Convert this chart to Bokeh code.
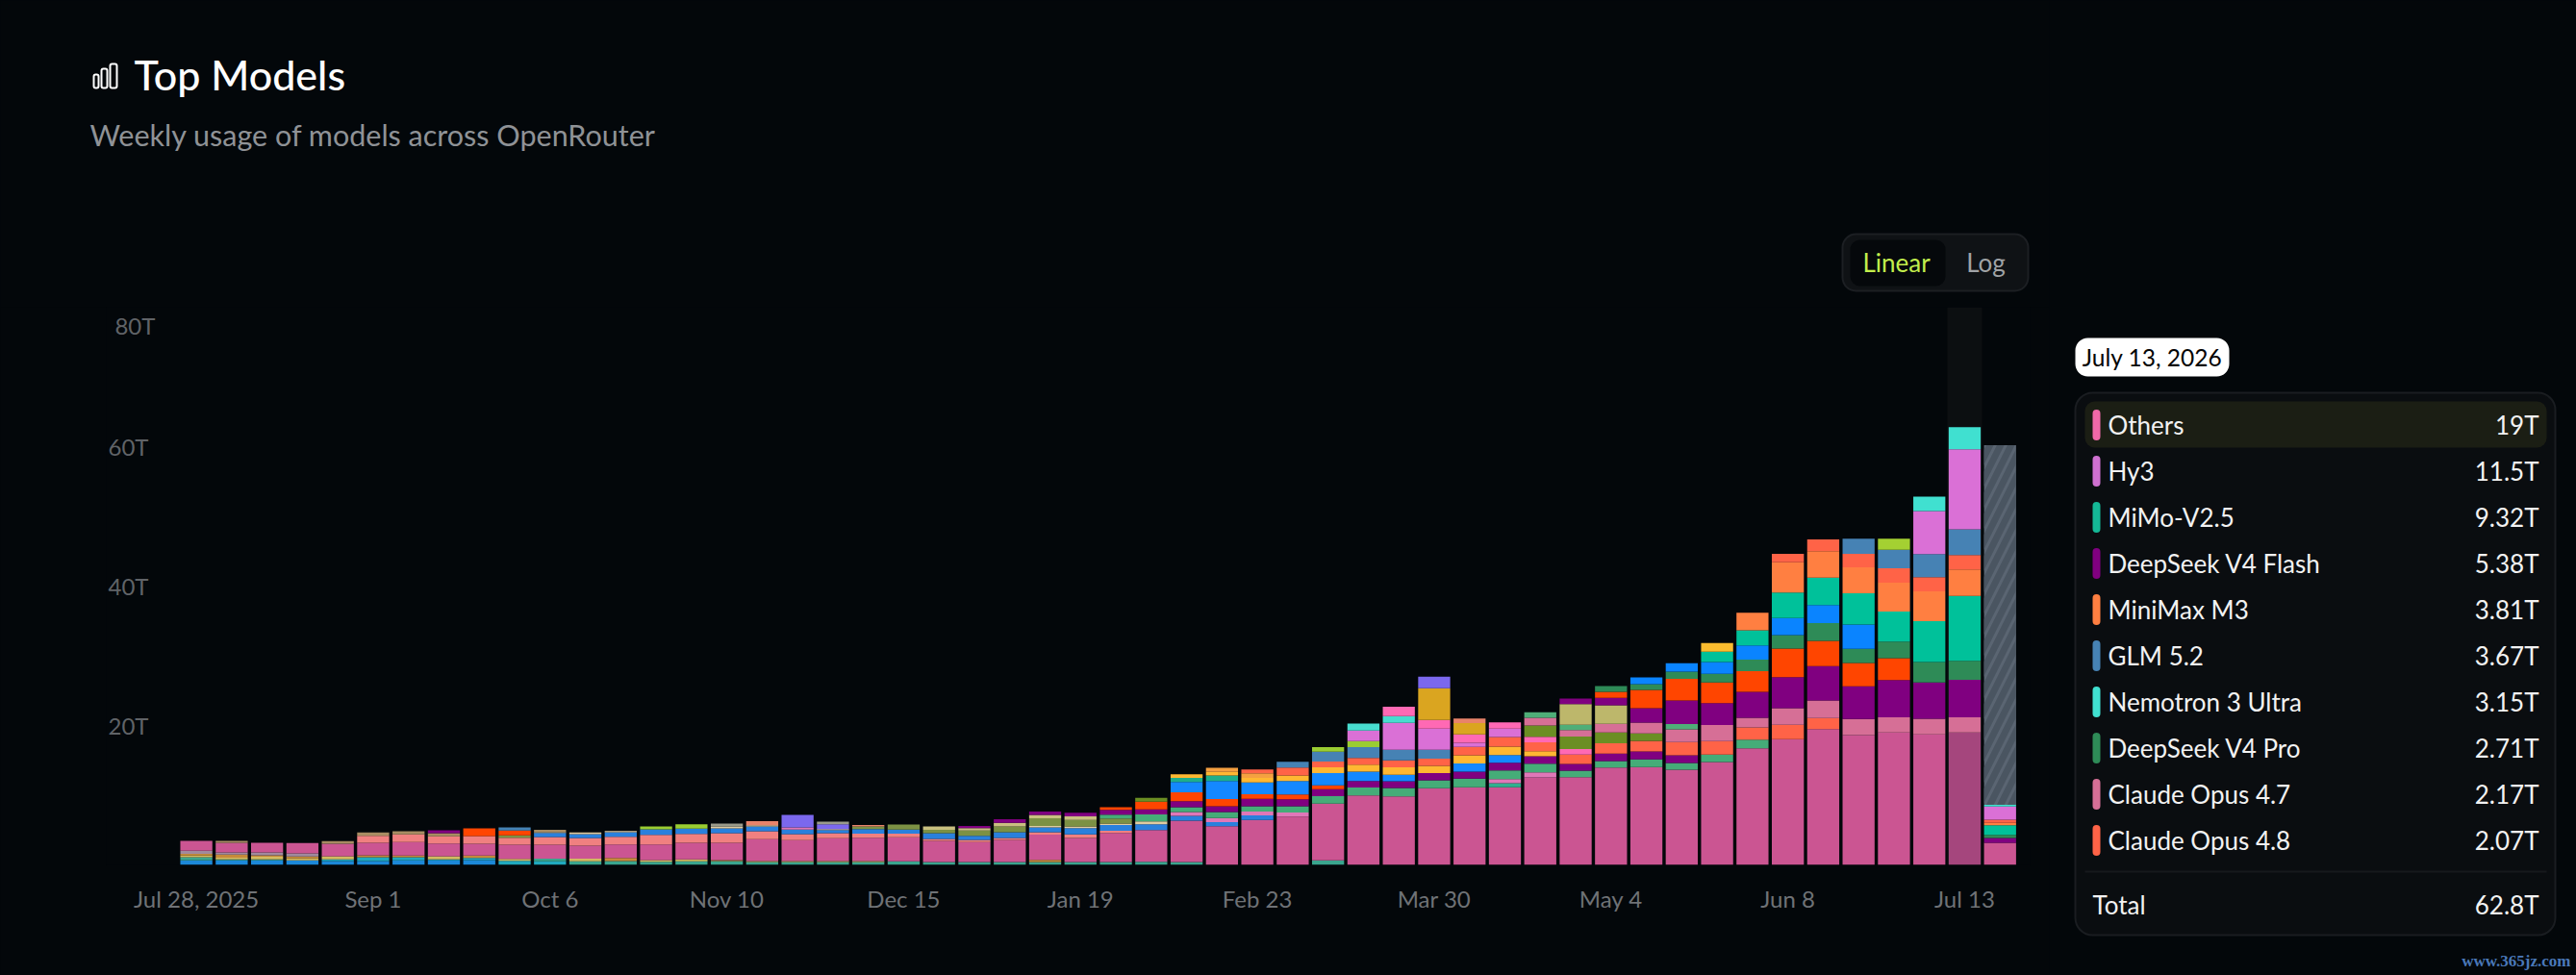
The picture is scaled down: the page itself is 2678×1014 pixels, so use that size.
from bokeh.plotting import figure
from bokeh.layouts import row, column
from bokeh.embed import file_html
from bokeh.resources import INLINE
from bokeh.models import ColumnDataSource, Range1d, FixedTicker, GlobalInlineStyleSheet
from bokeh.core.properties import value

BG = "#03070a"
FONT = "Lato"

x_ticks = [0, 5, 10, 15, 20, 25, 30, 35, 40, 45, 50]
x_tick_labels = ["Jul 28, 2025", "Sep 1", "Oct 6", "Nov 10", "Dec 15", "Jan 19",
                 "Feb 23", "Mar 30", "May 4", "Jun 8", "Jul 13"]
y_ticks = [20, 40, 60]
y_tick_labels = ["20T", "40T", "60T"]
y_top_tick = 80
y_top_label = "80T"

legend_date = "July 13, 2026"
legend_names = ["Others", "Hy3", "MiMo-V2.5", "DeepSeek V4 Flash", "MiniMax M3", "GLM 5.2",
                "Nemotron 3 Ultra", "DeepSeek V4 Pro", "Claude Opus 4.7", "Claude Opus 4.8"]
legend_values = ["19T", "11.5T", "9.32T", "5.38T", "3.81T", "3.67T", "3.15T", "2.71T", "2.17T", "2.07T"]
legend_colors = ["#f068a8", "#cf70d0", "#14b896", "#800080", "#ff7f41", "#4682b4",
                 "#40e0d0", "#2e8b57", "#d66f96", "#ff6347"]
legend_total = "62.8T"

# Weekly values in trillions of tokens, (week index, value), bottom of the stack first
others = [1.42, 1.38, 1.38, 1.47, 1.79, 1.79, 1.93, 1.83, 1.70, 2.03, 2.03, 1.89, 1.93, 2.25, 2.39, 2.48,
          3.13, 2.99, 3.27, 3.35, 3.45, 3.04, 2.86, 3.17, 3.63, 3.45, 4.18, 4.55, 5.93, 5.56, 6.44, 6.94,
          8.14, 9.97, 9.84, 11.0, 11.14, 11.14, 12.56, 12.6, 13.98, 14.03, 13.66, 14.77, 16.74, 18.04,
          19.5, 18.63, 19.0, 18.73, 19.0, 3.17]
low_blue = [(0, .65), (1, .65), (2, .65), (3, .65), (4, .55), (5, .55), (6, .65), (7, .65), (8, .69)]
low_cyan = [(4, .23), (5, .55), (6, .46), (7, .14), (8, .32), (9, .59), (10, .51)]
teal = [(0, .46), (1, .14), (2, .14), (10, .37), (11, .51), (12, .55), (13, .46), (14, .51), (15, .55), (16, .41),
        (17, .41), (18, .41), (19, .41), (20, .51), (21, .41), (22, .41), (23, .41), (24, .41), (25, .41),
        (26, .41), (27, .45), (28, .41), (32, .65)]
low_khaki = [(0, .23), (1, .23), (2, .37), (3, .28), (4, .46), (7, .46), (9, .28), (11, .37), (13, .23), (14, .28),
             (16, .14), (17, .14), (18, .14), (19, .14)]
low_orange = [(0, .23), (1, .46), (2, .23), (3, .28), (5, .28), (6, .23), (8, .32), (12, .46), (15, .14), (24, .32)]
low_gray = [(0, .46), (1, .32), (2, .41), (3, .46)]
teal2 = [(37, .59)]
salmon = [(5, 1.01), (6, 1.1), (7, 1.01), (8, 1.1), (9, 1.01), (10, 1.1), (11, 1.1), (12, 1.1), (13, 1.38), (14, 1.28),
          (15, 1.38), (16, 1.15), (17, .87), (18, .73), (19, .59), (20, .51), (21, .28), (22, .32), (23, .28),
          (24, .32), (25, .51), (26, .32)]
blue2 = [(10, .59), (11, .55), (12, .65), (13, .79), (14, .73), (15, .69), (16, .69), (17, .65), (18, .46), (19, .65),
         (20, .59), (21, .83), (22, .59), (23, .83), (24, .69), (25, .92), (26, .83), (27, .83), (28, .69), (29, .59),
         (30, .65)]
orchid_pink = [(17, .32), (28, .55), (29, .59), (30, .55), (31, .59), (37, .59), (38, .73)]
pale = [(10, .1), (11, .23), (12, .18), (15, .23), (16, .18), (18, .14), (24, .23), (25, .23), (26, .18), (27, .41)]
top_brown = [(1, .28), (4, .37), (5, .46), (6, .46), (7, .46), (10, .32)]
mid_olive = [(9, .32), (19, .37), (20, .74), (21, .46), (22, .74), (23, .83), (24, 1.1), (25, .92), (26, .74)]
mid_khaki = [(21, .51), (22, .37), (23, .51), (24, .46), (25, .51)]
green = [(26, .55), (27, 1.0), (28, .69), (29, .83), (30, .79), (31, .87), (32, 1.06), (33, 1.15), (34, 1.2), (35, 1.15),
         (36, 1.24), (37, 1.24), (38, 1.24), (39, .92), (40, .92), (41, 1.1), (42, .97), (43, 1.06), (44, 1.24)]
purple_a = [(7, .41), (22, .28), (23, .51), (24, .51), (25, .55), (26, .69), (27, .72), (28, .87), (29, .83), (30, 1.06),
            (31, 1.01), (32, 1.01), (33, .92), (34, .97), (35, 1.01), (36, 1.01), (37, 1.1), (38, 1.06), (39, .97),
            (40, 1.06), (41, 1.15), (42, 1.1)]
orangered_a = [(8, 1.1), (9, .69), (26, .37), (27, 1.1), (28, 1.28), (29, 1.06), (30, .65), (31, .69), (32, .55)]
blue3 = [(28, 1.48), (29, 2.58), (30, 1.7), (31, 1.93), (32, 1.75), (33, 1.34), (34, .92), (36, 1.15), (37, 1.1)]
teal_green = [(28, .59), (29, .79)]
yellow = [(28, .51), (29, .51), (30, .65), (31, .79), (32, .83), (33, 1.01), (34, 1.06), (35, 1.06), (36, 1.2), (37, 1.2),
          (38, .73)]
orange_a = [(29, .59), (30, .65)]
tomato_a = [(30, .55), (31, 1.15), (32, .83), (33, .97), (34, 1.01), (35, 1.01), (36, 1.2), (37, 1.38), (38, 1.28),
            (39, 1.34), (40, 1.48), (41, 1.52), (42, 1.89), (43, 1.93), (44, 1.75), (45, 2.07), (46, 1.56)]
steelblue_a = [(9, .46), (31, .83), (32, 1.42), (33, 1.52), (34, 1.52), (35, 1.28)]
yellowgreen_a = [(13, .41), (14, .65), (32, .65), (33, .87)]
orchid_a = [(33, 1.52), (34, 3.86), (35, 3.04), (36, .59), (37, 1.2)]
turquoise_a = [(33, 1.01), (34, .97)]
hotpink = [(34, 1.34), (35, 1.24), (36, 1.2), (37, .92), (38, .79), (39, .79)]
goldenrod = [(35, 4.55), (36, 1.61)]
coral = [(16, .59), (19, .23), (36, .65)]
slate = [(17, 1.79), (18, .69), (35, 1.66)]
top_gray = [(15, .46), (18, .37)]
olive_b = [(27, .55), (38, 1.61), (39, 1.79), (40, 1.56), (41, 1.06)]
opus47 = [(38, 1.1), (39, .92), (40, 1.24), (41, 1.56), (42, 1.84), (43, 2.3), (44, 1.38), (45, 2.39), (46, 2.53),
          (47, 2.3), (48, 2.17), (49, 2.25), (50, 2.17)]
green2 = [(38, .79), (39, .79), (42, .73)]
khaki2 = [(39, 2.94), (40, 2.66)]
v4_flash = [(39, .79), (40, 1.06), (41, 2.07), (42, 3.41), (43, 3.13), (44, 3.73), (45, 4.42), (46, 4.93), (47, 4.69),
            (48, 5.34), (49, 5.2), (50, 5.38), (51, .69)]
orangered_b = [(40, .87), (41, 2.62), (42, 3.08), (43, 2.99), (44, 2.94), (45, 4.1), (46, 3.63), (47, 3.35), (48, 3.13)]
v4_pro = [(40, .83), (41, .83), (42, 1.06), (43, 1.24), (44, 1.66), (45, 1.93), (46, 2.53), (47, 2.03), (48, 2.39),
          (49, 2.94), (50, 2.71), (51, .46)]
blue_b = [(41, .97), (42, 1.2), (43, 1.7), (44, 2.03), (45, 2.48), (46, 2.58), (47, 3.49)]
mimo = [(43, 1.48), (44, 2.17), (45, 3.63), (46, 3.96), (47, 4.46), (48, 4.32), (49, 5.84), (50, 9.32), (51, 1.38)]
yellow_b = [(43, 1.24)]
minimax = [(44, 2.53), (45, 4.37), (46, 3.77), (47, 3.73), (48, 4.14), (49, 4.28), (50, 3.81), (51, .32)]
opus48 = [(45, 1.2), (46, 1.7), (47, 1.93), (48, 2.07), (49, 2.03), (50, 2.07), (51, .46)]
glm = [(47, 2.17), (48, 2.66), (49, 3.31), (50, 3.67)]
yellowgreen_b = [(48, 1.56)]
hy3 = [(49, 6.17), (50, 11.5), (51, 1.9)]
nemotron = [(49, 2.07), (50, 3.15), (51, .23)]
partial_week = [(51, 51.6)]

stack = [
    (low_blue, "#1c88d8"), (low_cyan, "#20a9be"), (teal, "#3aa58e"), (low_khaki, "#d2bb62"),
    (low_orange, "#c58a3a"), (low_gray, "#a08a9e"),
    (list(enumerate(others)), "#cb5592"),
    (teal2, "#2fb08f"), (salmon, "#f08080"), (blue2, "#2a80dc"), (orchid_pink, "#e077b8"), (pale, "#e0cba0"),
    (top_brown, "#a88c62"), (mid_olive, "#7c9144"), (mid_khaki, "#c9c080"), (green, "#45ac78"),
    (purple_a, "#800080"), (orangered_a, "#ff4500"), (blue3, "#1488ff"), (teal_green, "#1fae8a"),
    (yellow, "#ffb732"), (orange_a, "#f5a040"), (tomato_a, "#ff6347"), (steelblue_a, "#4682b4"),
    (yellowgreen_a, "#9acd32"), (orchid_a, "#da70d6"), (turquoise_a, "#48dccf"), (hotpink, "#ff69b4"),
    (goldenrod, "#daa520"), (coral, "#e8836a"), (slate, "#7b68ee"), (top_gray, "#9a9a8a"),
    (olive_b, "#6b8e23"), (opus47, "#d66f96"), (green2, "#4fae78"), (khaki2, "#bdb76b"),
    (v4_flash, "#800080"), (orangered_b, "#ff4500"), (v4_pro, "#2e8b57"), (blue_b, "#0a84ff"),
    (mimo, "#00c19a"), (yellow_b, "#fbbc2e"), (minimax, "#ff7f41"), (opus48, "#ff6347"),
    (glm, "#4682b4"), (yellowgreen_b, "#a4d032"), (hy3, "#da70d6"), (nemotron, "#40e0d0"),
]
HOVER_WEEK = 50

main = figure(width=2130, height=695, output_backend="svg", toolbar_location=None,
              x_range=Range1d(-2.546, 51.85), y_range=Range1d(0, 80), frame_align=False,
              min_border_left=110, min_border_right=20, min_border_top=0, min_border_bottom=115,
              background_fill_color=BG, border_fill_color=BG, outline_line_color=None)
main.stylesheets = [GlobalInlineStyleSheet(css=f"html,body{{background:{BG};margin:0;overflow:hidden;}}")]
main.grid.visible = False

main.xaxis.ticker = FixedTicker(ticks=x_ticks)
main.xaxis.major_label_overrides = {k: v for k, v in zip(x_ticks, x_tick_labels)}
main.yaxis.ticker = FixedTicker(ticks=y_ticks)
main.yaxis.major_label_overrides = {k: v for k, v in zip(y_ticks, y_tick_labels)}
for ax in (main.xaxis[0], main.yaxis[0]):
    ax.axis_line_color = None
    ax.major_tick_line_color = None
    ax.minor_tick_line_color = None
    ax.major_label_text_font = FONT
    ax.major_label_text_font_size = "24px"
main.xaxis.major_label_text_color = "#6f7276"
main.yaxis.major_label_text_color = "#606367"
main.xaxis.major_label_standoff = 14
main.yaxis.major_label_standoff = -50

# hover band behind the highlighted week
main.vbar(x=[HOVER_WEEK], width=0.98, bottom=0, top=[y_top_tick], fill_color="#0c0f11", line_color=None)

bottoms = [0.0] * 52
for pairs, color in stack:
    xs = [w for w, _ in pairs]
    b = [bottoms[w] for w, _ in pairs]
    t = [bottoms[w] + v for w, v in pairs]
    fills = ["#a5467d" if (color == "#cb5592" and w == HOVER_WEEK) else color for w in xs]
    src = ColumnDataSource(dict(x=xs, bottom=b, top=t, fill=fills))
    main.vbar(x="x", width=0.906, bottom="bottom", top="top", source=src, fill_color="fill", line_color=None)
    for w, v in pairs:
        bottoms[w] += v

w0, v0 = partial_week[0]
main.vbar(x=[w0], width=0.906, bottom=[bottoms[w0]], top=[bottoms[w0] + v0], fill_color="#5a6572",
          line_color=None, hatch_pattern="right_diagonal_line", hatch_color="#4a5561",
          hatch_scale=22, hatch_weight=7)

# the top tick label sits below its tick, clamped inside the chart
main.text(x=[-1.16], y=[y_top_tick], text=[y_top_label], y_offset=19, text_align="right", text_baseline="middle",
          text_font=value(FONT), text_font_size="24px", text_color="#606367")


def page_figure(w, h, x0, y0):
    f = figure(width=w, height=h, output_backend="svg", toolbar_location=None,
               x_range=Range1d(x0, x0 + w), y_range=Range1d(y0 + h, y0), frame_align=False,
               x_axis_location=None, y_axis_location=None, min_border=0,
               background_fill_color=BG, border_fill_color=BG, outline_line_color=None)
    f.grid.visible = False
    return f


def box(f, l, t, r, b, fill, line=None, radius=0, width=1):
    f.quad(left=[l], right=[r], top=[t], bottom=[b], fill_color=fill or BG, fill_alpha=1 if fill else 0,
           line_color=line, line_width=width, border_radius=radius)


def label(f, x, y, s, size, color, align="left", font=FONT, style="normal"):
    f.text(x=[x], y=[y], text=[s], text_font=value(font), text_font_size=f"{size}px", text_color=color,
           text_align=align, text_baseline="middle", text_font_style=style)


# title block and scale toggle
head = page_figure(2130, 319, 0, 0)
for l, t, r in [(97, 77, 102), (105, 71, 111), (114, 66, 121)]:
    box(head, l, t, r, 91, None, "#ffffff", 2, 2)
label(head, 139, 77, "Top Models", 43, "#ffffff", font="Lato Medium, Lato")
label(head, 93, 139, "Weekly usage of models across OpenRouter", 30.5, "#8f9296")
box(head, 1915, 243, 2108, 302, "#0f1215", "#1c1f23", 14, 2)
box(head, 1923, 249, 2022, 297, "#05080b", None, 10)
label(head, 1971, 272.5, "Linear", 26, "#c2ee4c", "center")
label(head, 2064, 272.5, "Log", 26, "#a0a3a6", "center")

# legend panel
side = page_figure(548, 1014, 2130, 0)
box(side, 2157, 351, 2317, 391, "#ffffff", None, 13)
label(side, 2237, 371, legend_date, 24.5, "#050505", "center")
box(side, 2157, 408, 2656, 972, "#0a0d10", "#1a1d21", 18, 2)
box(side, 2167, 417, 2647, 465, "#1b1e14", None, 10)
for i, (name, val, col) in enumerate(zip(legend_names, legend_values, legend_colors)):
    cy = 441.5 + 48 * i
    box(side, 2175, cy - 16, 2183, cy + 16, col, None, 4)
    label(side, 2191, cy, name, 26, "#f2f2f2")
    label(side, 2639, cy, val, 26, "#f2f2f2", "right")
box(side, 2167, 905, 2647, 907, "#16191c")
label(side, 2175, 940, "Total", 26, "#f2f2f2")
label(side, 2639, 940, legend_total, 26, "#f2f2f2", "right")
label(side, 2672, 999, "www.365jz.com", 17, "#4a78b8", "right", "Liberation Serif", "bold")

p = row(column(head, main, spacing=0), side, spacing=0)
open("out.html", "w").write(file_html(p, INLINE))
